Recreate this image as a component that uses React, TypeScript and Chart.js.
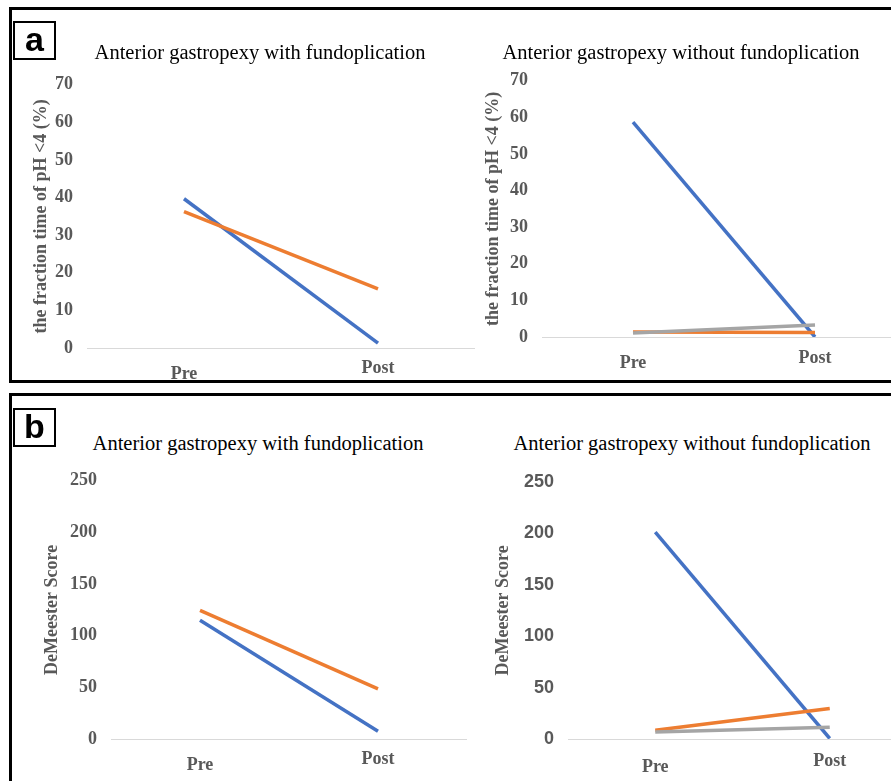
import React, { useEffect, useRef } from 'react';
import { Chart, registerables } from 'chart.js';

Chart.register(...registerables);

// ---------- data ----------
const categories = ['Pre', 'Post'];

const phWithBlue = [39.7, 1.3];
const phWithOrange = [36.3, 15.7];

const phWithoutBlue = [58.7, 0];
const phWithoutOrange = [1.4, 1.2];
const phWithoutGray = [1.1, 3.3];

const dmWithBlue = [115, 7.6];
const dmWithOrange = [124.5, 48.5];

const dmWithoutBlue = [201, 0.5];
const dmWithoutOrange = [8.6, 29.6];
const dmWithoutGray = [6.7, 11.5];

const phAxisMax = 70;
const phAxisStep = 10;
const dmAxisMax = 250;
const dmAxisStep = 50;

const titleWith = 'Anterior gastropexy with fundoplication';
const titleWithout = 'Anterior gastropexy without fundoplication';
const phAxisTitle = 'the fraction time of pH <4 (%)';
const dmAxisTitle = 'DeMeester Score';

const BLUE = '#4472C4';
const ORANGE = '#ED7D31';
const GRAY = '#A5A5A5';
const TEXT_GRAY = '#595959';
const SERIF = '"Liberation Serif", "Times New Roman", serif';
const SANS = '"Liberation Sans", Arial, sans-serif';

type Spec = {
  left: number; top: number; width: number; height: number;
  yWidth: number; titlePad: number; preOff: number; postOff: number;
  max: number; step: number; yTitle: string; tickFamily: string;
  series: { data: number[]; color: string; order: number }[];
};

const specs: Spec[] = [
  {
    left: 20, top: 60, width: 455, height: 328, yWidth: 67, titlePad: 11, preOff: 26, postOff: 20,
    max: phAxisMax, step: phAxisStep, yTitle: phAxisTitle, tickFamily: SERIF,
    series: [
      { data: phWithBlue, color: BLUE, order: 2 },
      { data: phWithOrange, color: ORANGE, order: 1 },
    ],
  },
  {
    left: 470, top: 56, width: 436, height: 321, yWidth: 72, titlePad: 13, preOff: 26, postOff: 21,
    max: phAxisMax, step: phAxisStep, yTitle: phAxisTitle, tickFamily: SERIF,
    series: [
      { data: phWithoutBlue, color: BLUE, order: 2 },
      { data: phWithoutOrange, color: ORANGE, order: 1 },
      { data: phWithoutGray, color: GRAY, order: 0 },
    ],
  },
  {
    left: 25, top: 456, width: 442, height: 323, yWidth: 86, titlePad: 17, preOff: 26, postOff: 20,
    max: dmAxisMax, step: dmAxisStep, yTitle: dmAxisTitle, tickFamily: SERIF,
    series: [
      { data: dmWithBlue, color: BLUE, order: 2 },
      { data: dmWithOrange, color: ORANGE, order: 1 },
    ],
  },
  {
    left: 480, top: 457, width: 437, height: 322, yWidth: 88, titlePad: 13, preOff: 28, postOff: 22,
    max: dmAxisMax, step: dmAxisStep, yTitle: dmAxisTitle, tickFamily: SANS,
    series: [
      { data: dmWithoutBlue, color: BLUE, order: 2 },
      { data: dmWithoutOrange, color: ORANGE, order: 1 },
      { data: dmWithoutGray, color: GRAY, order: 0 },
    ],
  },
];

const XH = 40;
const XPAD = 8;

function LineChart({ spec }: { spec: Spec }) {
  const ref = useRef<HTMLCanvasElement | null>(null);
  useEffect(() => {
    if (!ref.current) return;
    const chart = new Chart(ref.current, {
      type: 'line',
      data: {
        labels: categories,
        datasets: spec.series.map((s) => ({
          data: s.data,
          borderColor: s.color,
          backgroundColor: s.color,
          borderWidth: 3.5,
          pointRadius: 0,
          borderCapStyle: 'butt',
          order: s.order,
          fill: false,
          tension: 0,
        })),
      },
      options: {
        animation: false,
        responsive: false,
        devicePixelRatio: 1,
        layout: { padding: { top: 20, left: 0, right: 0, bottom: 0 } },
        plugins: { legend: { display: false }, tooltip: { enabled: false }, title: { display: false } },
        scales: {
          x: {
            type: 'category',
            offset: true,
            grid: { display: false, drawTicks: false },
            border: { display: true, color: '#D9D9D9', width: 1 },
            ticks: {
              padding: XPAD,
              color: TEXT_GRAY,
              maxRotation: 0,
              font: (ctx: any) => ({
                family: SERIF,
                size: 18,
                weight: 'bold',
                lineHeight: (2 * ((ctx.index === 0 ? spec.preOff : spec.postOff) - XPAD)) + 'px',
              }),
            },
            afterFit: (scale: any) => { scale.height = XH; },
          },
          y: {
            min: 0,
            max: spec.max,
            grid: { display: false, drawTicks: false },
            border: { display: false },
            ticks: {
              stepSize: spec.step,
              padding: 14,
              color: TEXT_GRAY,
              font: { family: spec.tickFamily, size: 18, weight: 'bold' },
            },
            title: {
              display: true,
              text: spec.yTitle,
              color: TEXT_GRAY,
              font: { family: SERIF, size: 18, weight: 'bold' },
              padding: { top: spec.titlePad, bottom: 0 },
            },
            afterFit: (scale: any) => { scale.width = spec.yWidth; },
          },
        },
      } as any,
    });
    return () => chart.destroy();
  }, [spec]);
  return (
    <canvas
      ref={ref}
      width={spec.width}
      height={spec.height}
      style={{ position: 'absolute', left: spec.left, top: spec.top, width: spec.width, height: spec.height }}
    />
  );
}

function Title({ text, cx, top }: { text: string; cx: number; top: number }) {
  return (
    <div
      style={{
        position: 'absolute', left: cx - 250, top, width: 500, textAlign: 'center',
        fontFamily: SERIF, fontSize: 20.5, lineHeight: '24px', color: '#000', whiteSpace: 'nowrap',
      }}
    >
      {text}
    </div>
  );
}

function LetterBox({ letter, top }: { letter: string; top: number }) {
  return (
    <div
      style={{
        position: 'absolute', left: 13, top, width: 43, height: 39, boxSizing: 'border-box',
        border: '2px solid #000', fontFamily: SANS, fontWeight: 'bold', fontSize: 34,
        lineHeight: '33px', textAlign: 'center', color: '#000', background: '#fff', zIndex: 3,
      }}
    >
      {letter}
    </div>
  );
}

export default function App() {
  return (
    <div
      style={{
        position: 'fixed', left: 0, top: 0, width: 891, height: 781, overflow: 'hidden', background: '#fff',
      }}
    >
      {specs.map((s, i) => (
        <LineChart key={i} spec={s} />
      ))}
      <Title text={titleWith} cx={260} top={40} />
      <Title text={titleWithout} cx={681} top={40} />
      <Title text={titleWith} cx={258} top={431} />
      <Title text={titleWithout} cx={692} top={431} />
      <div
        style={{
          position: 'absolute', left: 9, top: 7, width: 900, height: 376, boxSizing: 'border-box',
          border: '3px solid #000', zIndex: 2, pointerEvents: 'none',
        }}
      />
      <div
        style={{
          position: 'absolute', left: 9, top: 393, width: 900, height: 420, boxSizing: 'border-box',
          border: '3px solid #000', zIndex: 2, pointerEvents: 'none',
        }}
      />
      <LetterBox letter="a" top={21} />
      <LetterBox letter="b" top={408} />
    </div>
  );
}
